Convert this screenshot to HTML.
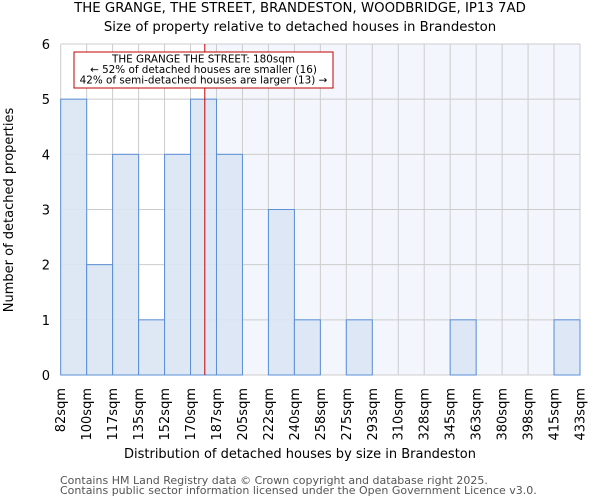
<!DOCTYPE html>
<html><head><meta charset="utf-8"><style>
body{margin:0;background:#fff}
svg{display:block;font-family:"DejaVu Sans","Liberation Sans",sans-serif}
</style></head><body>
<svg id="chart" width="600" height="500">
<text x="300" y="12" text-anchor="middle" font-size="13.3">THE GRANGE, THE STREET, BRANDESTON, WOODBRIDGE, IP13 7AD</text>
<text x="300" y="31" text-anchor="middle" font-size="13.3">Size of property relative to detached houses in Brandeston</text>
<g id="plot"></g>
<text x="300" y="458" text-anchor="middle" font-size="13">Distribution of detached houses by size in Brandeston</text>
<text transform="translate(13,210) rotate(-90)" text-anchor="middle" font-size="13">Number of detached properties</text>
<text x="60" y="484" font-size="11" fill="#555">Contains HM Land Registry data © Crown copyright and database right 2025.</text>
<text x="60" y="494" font-size="11" fill="#555">Contains public sector information licensed under the Open Government Licence v3.0.</text>
</svg>
<script>
const binLabels=["82sqm","100sqm","117sqm","135sqm","152sqm","170sqm","187sqm","205sqm","222sqm","240sqm","258sqm","275sqm","293sqm","310sqm","328sqm","345sqm","363sqm","380sqm","398sqm","415sqm","433sqm"];
const counts=[5,2,4,1,4,5,4,0,3,1,0,1,0,0,0,1,0,0,0,1];
const yTicks=[0,1,2,3,4,5,6];
const propertyBinPos=[5.55];
const NS="http://www.w3.org/2000/svg";
const X0=60.7,X1=580,Y0=375,Y1=44;
const bw=(X1-X0)/counts.length;
const xs=i=>X0+i*bw;
const ys=v=>Y0-(v/6)*(Y0-Y1);
const g=document.getElementById('plot');
function mk(t,a){const e=document.createElementNS(NS,t);for(const k in a)e.setAttribute(k,a[k]);g.appendChild(e);return e;}
const px=xs(propertyBinPos[0]);
let e=mk('rect',{x:px,y:Y1,width:X1-px,height:Y0-Y1,fill:'#f3f6fc'});


yTicks.forEach(v=>{
 let l=mk('line',{x1:X0,x2:X1,y1:ys(v),y2:ys(v),stroke:'#ccc','stroke-width':1});
 
 
 let t=mk('text',{x:50,y:ys(v)+5,'text-anchor':'end','font-size':13});
 t.textContent=v;
 
 
});
binLabels.forEach((s,i)=>{
 let l=mk('line',{x1:xs(i),x2:xs(i),y1:Y1,y2:Y0,stroke:'#ccc','stroke-width':1});
 
 
 let t=mk('text',{transform:`translate(${xs(i)+4.5},388) rotate(-90)`,'text-anchor':'end','font-size':13});
 t.textContent=s;
 
 
});
counts.forEach((c,i)=>{
 let r=mk('rect',{x:xs(i),y:ys(c),width:bw,height:Y0-ys(c),fill:'#dae5f4','fill-opacity':0.9,stroke:'#5b8fd6','stroke-width':1});
 
 
});
e=mk('line',{x1:px,x2:px,y1:Y1,y2:Y0,stroke:'#c00000','stroke-width':1});


e=mk('rect',{x:74,y:52,width:259,height:36,fill:'#fff',stroke:'#c00000','stroke-width':1});


["THE GRANGE THE STREET: 180sqm","← 52% of detached houses are smaller (16)","42% of semi-detached houses are larger (13) →"].forEach((s,i)=>{
 let t=mk('text',{x:203.5,y:62.5+i*10.5,'text-anchor':'middle','font-size':10.4});
 t.textContent=s;
 
 
});
</script>
</body></html>
